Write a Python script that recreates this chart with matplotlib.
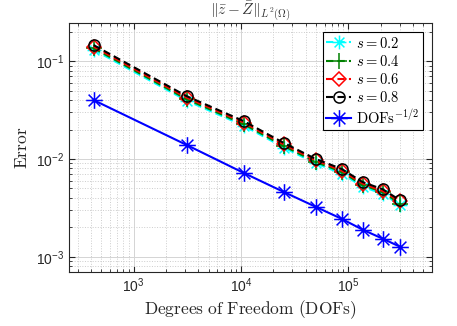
import matplotlib
matplotlib.use('Agg')
import matplotlib.pyplot as plt
from matplotlib.path import Path

# Data
dofs = [424, 3120, 10600, 25000, 49700, 86800, 136000, 209000, 301000]
err_s08 = [0.146, 0.0439, 0.0244, 0.0146, 0.0100, 0.0079, 0.0058, 0.0049, 0.0038]
err_s06 = [0.141, 0.0424, 0.0236, 0.0141, 0.0097, 0.0076, 0.0056, 0.0047, 0.0037]
err_s04 = [0.136, 0.0409, 0.0227, 0.0136, 0.0093, 0.0074, 0.0054, 0.0046, 0.0035]
err_s02 = [0.131, 0.0395, 0.0219, 0.0131, 0.0090, 0.0071, 0.0052, 0.0044, 0.0034]
ref_rate = [0.040, 0.0139, 0.0072, 0.0046, 0.00324, 0.00244, 0.00189, 0.00153, 0.00127]

plt.rcParams['mathtext.fontset'] = 'cm'
plt.rcParams['font.family'] = 'Liberation Sans'

# MATLAB-like asterisk marker
c, d = 1.0, 0.7071
star = Path([(-c, 0), (c, 0), (0, -c), (0, c), (-d, -d), (d, d), (-d, d), (d, -d)],
            [Path.MOVETO, Path.LINETO] * 4)

fig = plt.figure(figsize=(4.57, 3.26), dpi=100)
ax = fig.add_axes([0.151, 0.166, 0.794, 0.763])

dash = (3.5, 2.0)
lw = 1.5
ax.loglog(dofs, err_s02, color='cyan', ls='--', dashes=dash, lw=lw, marker=star,
          ms=10, mew=1.1, label=r'$s = 0.2$')
ax.loglog(dofs, err_s04, color='#008000', ls='--', dashes=dash, lw=lw, marker='+',
          ms=11, mew=1.1, label=r'$s = 0.4$')
ax.loglog(dofs, err_s06, color='red', ls='--', dashes=dash, lw=lw, marker='D',
          ms=7, mew=1.1, mfc='none', label=r'$s = 0.6$')
ax.loglog(dofs, err_s08, color='black', ls='--', dashes=dash, lw=lw, marker='o',
          ms=8, mew=1.1, mfc='none', label=r'$s = 0.8$')
ax.loglog(dofs, ref_rate, color='blue', ls='-', lw=lw, marker=star,
          ms=12, mew=1.1, label=r'$\mathrm{DOFs}^{-1/2}$')

ax.set_xlim(250, 6e5)
ax.set_ylim(7.0e-4, 0.245)

ax.grid(True, which='major', color='#d4d4d4', lw=0.7, ls='-')
ax.grid(True, which='minor', color='#cccccc', lw=0.7, ls=':')
ax.set_axisbelow(True)
ax.tick_params(which='both', direction='in', top=True, right=True, colors='#262626',
               labelsize=10)
ax.tick_params(which='major', length=4)
ax.tick_params(which='minor', length=2)
for sp in ax.spines.values():
    sp.set_color('#262626')
    sp.set_linewidth(0.8)

ax.set_xlabel(r'$\mathrm{Degrees\ of\ Freedom\ (DOFs)}$', fontsize=12.5, color='#262626',
              labelpad=2)
ax.set_ylabel(r'$\mathrm{Error}$', fontsize=12.5, color='#262626', labelpad=4)
ax.set_title(r'$\|\bar{z}-\bar{Z}\|_{L^2(\Omega)}$', fontsize=11, color='#333333', pad=5)

leg = ax.legend(loc='upper right', fontsize=10.5, frameon=True, fancybox=False,
                edgecolor='black', framealpha=1, handlelength=1.7, borderaxespad=0.6,
                labelspacing=0.22, borderpad=0.25, handletextpad=0.35)
leg.get_frame().set_linewidth(0.8)

plt.savefig('out.png', dpi=100)
